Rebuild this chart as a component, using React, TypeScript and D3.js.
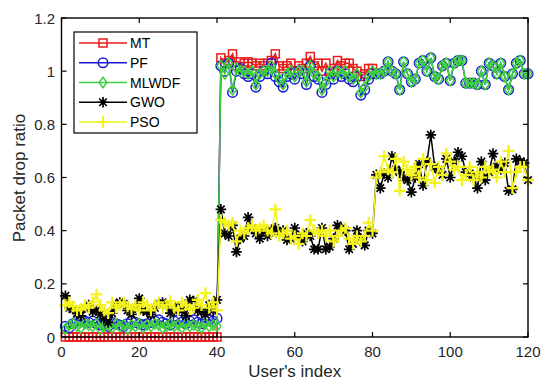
import React from "react";
import * as d3 from "d3";

const W = 550;
const H = 387;

const xTicks = [0, 20, 40, 60, 80, 100, 120];
const yTicks = [0, 0.2, 0.4, 0.6, 0.8, 1, 1.2];
const yTickLabels = ["0", "0.2", "0.4", "0.6", "0.8", "1", "1.2"];

const seriesNames = ["MT", "PF", "MLWDF", "GWO", "PSO"];

// user index 1..120
const users = d3.range(1, 121);

const mtLow = new Array(40).fill(0);
const mtMid = [1.05, 1.03, 1.04, 1.065, 1.02, 1.035, 1.03, 1.035, 1.03, 1.02, 1.03, 1.02, 1.03, 1.04, 1.065, 1.02, 1.01, 1.02, 1.03, 1.0, 1.02, 1.01, 1.03, 1.055, 1.02, 1.03, 1.0, 1.03, 1.0, 1.01, 1.04, 1.02, 1.03, 1.03, 1.01, 1.0, 0.98, 0.99, 1.01, 1.01];
const mtHigh = new Array(40).fill(null);

const pfLow = [0.04, 0.035, 0.05, 0.06, 0.065, 0.06, 0.055, 0.06, 0.05, 0.045, 0.05, 0.04, 0.055, 0.05, 0.045, 0.04, 0.05, 0.06, 0.055, 0.05, 0.045, 0.05, 0.055, 0.06, 0.065, 0.055, 0.05, 0.045, 0.06, 0.065, 0.055, 0.05, 0.06, 0.065, 0.055, 0.05, 0.06, 0.065, 0.06, 0.07];
const pfMid = [1.02, 1.0, 1.03, 0.92, 1.0, 1.01, 0.99, 0.98, 0.99, 0.94, 0.98, 1.0, 0.99, 1.03, 0.98, 0.96, 0.94, 0.98, 0.99, 0.97, 1.0, 0.99, 0.95, 1.02, 0.98, 0.97, 0.92, 0.95, 0.99, 0.97, 1.0, 0.98, 0.99, 0.97, 0.96, 0.98, 0.91, 0.93, 0.97, 0.99];
const highBand = [0.99, 0.99, 1.0, 1.035, 1.0, 0.99, 0.93, 1.035, 0.99, 0.96, 0.97, 1.03, 1.04, 1.0, 1.05, 0.98, 0.97, 1.02, 1.03, 0.965, 1.03, 1.04, 1.04, 0.955, 0.955, 0.955, 0.95, 1.0, 0.95, 1.03, 1.02, 0.99, 1.03, 0.98, 0.93, 0.99, 1.03, 1.04, 0.99, 0.99];

const mlLow = [0.03, 0.045, 0.05, 0.04, 0.035, 0.05, 0.045, 0.04, 0.05, 0.03, 0.04, 0.045, 0.035, 0.05, 0.04, 0.045, 0.03, 0.045, 0.04, 0.05, 0.035, 0.045, 0.04, 0.05, 0.045, 0.035, 0.04, 0.05, 0.04, 0.045, 0.035, 0.05, 0.04, 0.045, 0.04, 0.035, 0.05, 0.04, 0.045, 0.04];
const mlMid = [1.02, 0.99, 1.03, 0.93, 1.01, 1.0, 1.0, 0.99, 1.0, 0.95, 0.99, 1.0, 1.0, 1.02, 0.99, 0.97, 0.95, 0.99, 1.0, 0.98, 1.0, 1.0, 0.96, 1.02, 0.99, 0.98, 0.93, 0.96, 1.0, 0.98, 1.0, 0.99, 1.0, 0.98, 0.97, 0.99, 0.92, 0.94, 0.98, 1.0];

const gwoLow = [0.155, 0.11, 0.105, 0.09, 0.08, 0.11, 0.12, 0.095, 0.1, 0.085, 0.07, 0.055, 0.09, 0.12, 0.13, 0.125, 0.1, 0.085, 0.11, 0.145, 0.1, 0.095, 0.085, 0.11, 0.125, 0.13, 0.12, 0.09, 0.1, 0.115, 0.1, 0.08, 0.14, 0.135, 0.1, 0.095, 0.085, 0.12, 0.1, 0.14];
const gwoMid = [0.48, 0.39, 0.38, 0.42, 0.32, 0.37, 0.38, 0.45, 0.41, 0.39, 0.37, 0.4, 0.38, 0.4, 0.41, 0.39, 0.4, 0.365, 0.37, 0.41, 0.38, 0.36, 0.39, 0.38, 0.33, 0.33, 0.41, 0.33, 0.34, 0.37, 0.42, 0.41, 0.4, 0.33, 0.35, 0.4, 0.37, 0.345, 0.4, 0.39];
const gwoHigh = [0.61, 0.56, 0.615, 0.6, 0.68, 0.63, 0.62, 0.6, 0.59, 0.545, 0.6, 0.65, 0.57, 0.66, 0.76, 0.64, 0.63, 0.61, 0.67, 0.6, 0.66, 0.695, 0.68, 0.62, 0.615, 0.6, 0.56, 0.66, 0.59, 0.62, 0.69, 0.64, 0.63, 0.655, 0.55, 0.555, 0.67, 0.66, 0.655, 0.59];

const psoLow = [0.12, 0.13, 0.115, 0.1, 0.105, 0.12, 0.11, 0.13, 0.16, 0.12, 0.1, 0.09, 0.13, 0.11, 0.12, 0.13, 0.115, 0.105, 0.12, 0.1, 0.13, 0.12, 0.1, 0.12, 0.13, 0.11, 0.12, 0.135, 0.11, 0.1, 0.13, 0.12, 0.105, 0.11, 0.14, 0.12, 0.165, 0.11, 0.13, 0.1];
const psoMid = [0.44, 0.43, 0.42, 0.43, 0.36, 0.4, 0.39, 0.41, 0.42, 0.4, 0.41, 0.42, 0.4, 0.39, 0.48, 0.38, 0.39, 0.4, 0.37, 0.38, 0.35, 0.39, 0.38, 0.44, 0.4, 0.39, 0.4, 0.38, 0.4, 0.36, 0.38, 0.4, 0.41, 0.37, 0.35, 0.38, 0.36, 0.38, 0.43, 0.4];
const psoHigh = [0.6, 0.62, 0.68, 0.63, 0.62, 0.67, 0.55, 0.66, 0.63, 0.61, 0.64, 0.6, 0.67, 0.59, 0.65, 0.58, 0.64, 0.61, 0.69, 0.66, 0.63, 0.64, 0.59, 0.61, 0.64, 0.59, 0.62, 0.6, 0.64, 0.62, 0.63, 0.6, 0.66, 0.62, 0.7, 0.56, 0.62, 0.64, 0.64, 0.59];

const mtValues: (number | null)[] = [...mtLow, ...mtMid, ...mtHigh];
const pfValues: (number | null)[] = [...pfLow, ...pfMid, ...highBand];
const mlwdfValues: (number | null)[] = [...mlLow, ...mlMid, ...highBand];
const gwoValues: (number | null)[] = [...gwoLow, ...gwoMid, ...gwoHigh];
const psoValues: (number | null)[] = [...psoLow, ...psoMid, ...psoHigh];

const seriesValues = [mtValues, pfValues, mlwdfValues, gwoValues, psoValues];
const colors = ["#e81c1c", "#1a1ad6", "#3fcf3f", "#000000", "#f3f31a"];
const markers = ["square", "circle", "diamond", "asterisk", "plus"];

const M = { left: 61.5, right: 528, top: 18, bottom: 337 };

function Marker({ kind, x, y, color }: { kind: string; x: number; y: number; color: string }) {
  const sw = 1.5;
  if (kind === "square") {
    return <rect x={x - 4} y={y - 4} width={8} height={8} fill="none" stroke={color} strokeWidth={sw} />;
  }
  if (kind === "circle") {
    return <circle cx={x} cy={y} r={4.8} fill="none" stroke={color} strokeWidth={sw} />;
  }
  if (kind === "diamond") {
    const r = 5.2;
    return <path d={`M${x},${y - r}L${x + r * 0.75},${y}L${x},${y + r}L${x - r * 0.75},${y}Z`} fill="none" stroke={color} strokeWidth={sw} />;
  }
  if (kind === "asterisk") {
    const r = 5.3;
    const d = r * Math.SQRT1_2;
    return (
      <path
        d={`M${x - r},${y}L${x + r},${y}M${x},${y - r}L${x},${y + r}M${x - d},${y - d}L${x + d},${y + d}M${x - d},${y + d}L${x + d},${y - d}`}
        stroke={color}
        strokeWidth={1.7}
        fill="none"
      />
    );
  }
  const r = 5.8;
  return <path d={`M${x - r},${y}L${x + r},${y}M${x},${y - r}L${x},${y + r}`} stroke={color} strokeWidth={2.2} fill="none" />;
}

export default function App() {
  const x = d3.scaleLinear().domain([0, 120]).range([M.left, M.right]);
  const y = d3.scaleLinear().domain([0, 1.2]).range([M.bottom, M.top]);
  const font = "Liberation Sans, Arial, Helvetica, sans-serif";

  const lines = seriesValues.map((vals) =>
    d3
      .line<number>()
      .defined((_, i) => vals[i] !== null)
      .x((u) => x(u))
      .y((_, i) => y(vals[i] as number))(users) || ""
  );

  const legX = 74, legY = 32, legW = 123, legH = 101;
  const legRow = 19.75;

  return (
    <svg width={W} height={H} style={{ position: "absolute", left: 0, top: 0, background: "#fff" }} fontFamily={font}>
      <rect x={0} y={0} width={W} height={H} fill="#fff" />
      {seriesValues.map((vals, s) => (
        <g key={s}>
          <path d={lines[s]} fill="none" stroke={colors[s]} strokeWidth={1.5} />
          {users.map((u, i) =>
            vals[i] === null ? null : <Marker key={i} kind={markers[s]} x={x(u)} y={y(vals[i] as number)} color={colors[s]} />
          )}
        </g>
      ))}

      {/* axes box */}
      <rect x={M.left} y={M.top} width={M.right - M.left} height={M.bottom - M.top} fill="none" stroke="#000" strokeWidth={1.4} />
      {xTicks.map((t) => (
        <g key={"x" + t}>
          <line x1={x(t)} x2={x(t)} y1={M.bottom} y2={M.bottom - 5} stroke="#000" strokeWidth={1.2} />
          <line x1={x(t)} x2={x(t)} y1={M.top} y2={M.top + 5} stroke="#000" strokeWidth={1.2} />
          <text x={x(t)} y={357} textAnchor="middle" fontSize={15} fill="#262626">{t}</text>
        </g>
      ))}
      {yTicks.map((t, i) => (
        <g key={"y" + t}>
          <line x1={M.left} x2={M.left + 5} y1={y(t)} y2={y(t)} stroke="#000" strokeWidth={1.2} />
          <line x1={M.right} x2={M.right - 5} y1={y(t)} y2={y(t)} stroke="#000" strokeWidth={1.2} />
          <text x={55} y={y(t) + 5.5} textAnchor="end" fontSize={15} fill="#262626">{yTickLabels[i]}</text>
        </g>
      ))}
      <text x={(M.left + M.right) / 2} y={377} textAnchor="middle" fontSize={17} fill="#262626">User's index</text>
      <text transform={`translate(25,178) rotate(-90)`} textAnchor="middle" fontSize={17} fill="#262626">Packet drop ratio</text>

      {/* legend */}
      <rect x={legX} y={legY} width={legW} height={legH} fill="#fff" stroke="#000" strokeWidth={1.2} />
      {seriesNames.map((name, s) => {
        const cy = 43 + s * legRow;
        return (
          <g key={name}>
            <line x1={79} x2={127} y1={cy} y2={cy} stroke={colors[s]} strokeWidth={1.5} />
            <Marker kind={markers[s]} x={103} y={cy} color={colors[s]} />
            <text x={130} y={cy + 5} fontSize={14} fill="#000">{name}</text>
          </g>
        );
      })}
    </svg>
  );
}
